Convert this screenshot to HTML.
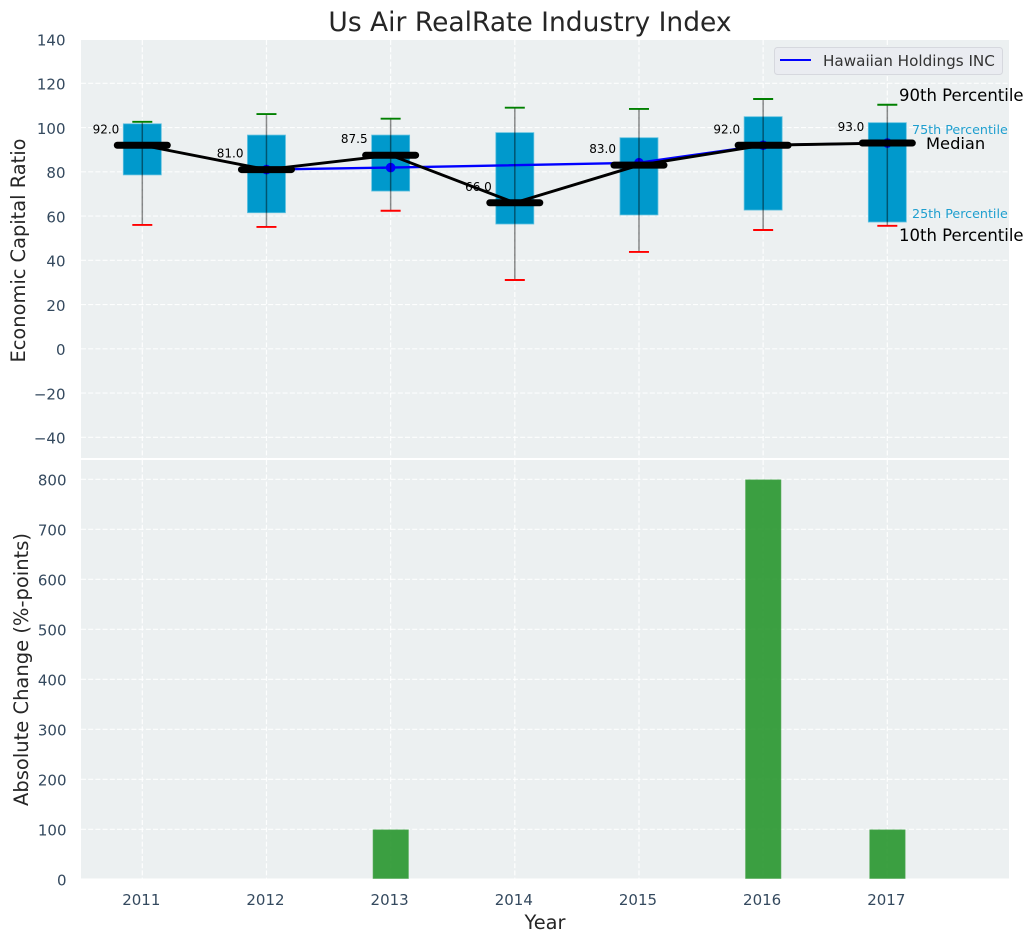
<!DOCTYPE html>
<html lang="en">
<head>
<meta charset="utf-8">
<title>Us Air RealRate Industry Index</title>
<style>
html,body{margin:0;padding:0;background:#fff;}
svg{display:block;font-family:"DejaVu Sans","Liberation Sans",sans-serif;}
</style>
</head>
<body>
<svg id="chart" xmlns="http://www.w3.org/2000/svg" width="1034" height="942" viewBox="0 0 1034 942">
  <rect x="81" y="40" width="928" height="418" fill="#ecf0f1"/>
  <rect x="81" y="460" width="928" height="418.5" fill="#ecf0f1"/>
  <g id="grid"></g>
  <g id="upper"></g>
  <g id="lower"></g>
  <g id="ticks"></g>

  <text x="530" y="31" text-anchor="middle" font-size="26.5" fill="#262626">Us Air RealRate Industry Index</text>
  <text transform="translate(25,250.5) rotate(-90)" text-anchor="middle" font-size="19.4" fill="#262626">Economic Capital Ratio</text>
  <text transform="translate(28,669.5) rotate(-90)" text-anchor="middle" font-size="19.5" fill="#262626">Absolute Change (%-points)</text>
  <text x="545" y="929" text-anchor="middle" font-size="19.4" fill="#262626">Year</text>

  <g>
    <rect x="774.5" y="47.5" width="228" height="27" rx="3" fill="#eaecf1" stroke="#d6d8de" stroke-width="1"/>
    <line x1="780" y1="60" x2="811" y2="60" stroke="#0000ff" stroke-width="2"/>
    <text x="823" y="66" font-size="15.2" fill="#333333">Hawaiian Holdings INC</text>
  </g>

  <text x="899" y="101" font-size="16.5" fill="#000000">90th Percentile</text>
  <text x="912" y="134" font-size="12.7" fill="#1f9fcf">75th Percentile</text>
  <text x="926" y="149" font-size="16.3" fill="#000000">Median</text>
  <text x="912" y="218" font-size="12.7" fill="#1f9fcf">25th Percentile</text>
  <text x="899" y="241" font-size="16.5" fill="#000000">10th Percentile</text>
</svg>

<script>
var years = [2011, 2012, 2013, 2014, 2015, 2016, 2017];
var p90 = [102.6, 106.1, 104, 109, 108.4, 112.9, 110.3];
var p75 = [101.7, 96.6, 96.6, 97.7, 95.4, 104.9, 102.2];
var medians = [92, 81, 87.5, 66, 83, 92, 93];
var p25 = [78.6, 61.5, 71.3, 56.4, 60.5, 62.7, 57.3];
var p10 = [56, 55.1, 62.4, 31.1, 43.8, 53.7, 55.6];
var companyYears = [2012, 2013, 2015, 2016, 2017];
var companyValues = [81, 81.9, 84.1, 92, 93];
var absoluteChange = [0, 0, 100, 0, 0, 800, 100];
var upperTicks = [-40, -20, 0, 20, 40, 60, 80, 100, 120, 140];
var lowerTicks = [0, 100, 200, 300, 400, 500, 600, 700, 800];

var NS = 'http://www.w3.org/2000/svg';

function xScale(year) { return 142.3 + (year - 2011) * 124.17; }
function yUpper(v) { return 348.8 - v * 2.2125; }
function yLower(v) { return 879.3 - v * 0.5; }

function make(tag, parent, attrs) {
  var el = document.createElementNS(NS, tag);
  for (var k in attrs) { el.setAttribute(k, attrs[k]); }
  parent.appendChild(el);
  return el;
}

var gridG = document.getElementById('grid');
var upperG = document.getElementById('upper');
var lowerG = document.getElementById('lower');
var ticksG = document.getElementById('ticks');
var tickColor = '#34495e';
var el;

function gridLine(x1, y1, x2, y2) {
  return make('line', gridG, { x1: x1, y1: y1, x2: x2, y2: y2, stroke: 'rgba(255,255,255,0.9)', 'stroke-width': 1.2, 'stroke-dasharray': '5,2.2' });
}

upperTicks.forEach(function (t) {
  if (yUpper(t) >= 40) {
    el = gridLine(81, yUpper(t), 1009, yUpper(t));
    
    
  }
  el = make('text', ticksG, { x: 65.5, y: yUpper(t) + 6.4, 'text-anchor': 'end', 'font-size': 15, fill: tickColor });
  el.textContent = String(t).replace('-', '\u2212');
  
  
});

lowerTicks.forEach(function (t) {
  if (t > 0) {
    el = gridLine(81, yLower(t), 1009, yLower(t));
    
    
  }
  el = make('text', ticksG, { x: 66.5, y: yLower(t) + 6.4, 'text-anchor': 'end', 'font-size': 15, fill: tickColor });
  el.textContent = String(t);
  
  
});

years.forEach(function (yr) {
  var x = xScale(yr);
  el = gridLine(x, 40, x, 458);
  
  
  el = gridLine(x, 460, x, 878.5);
  
  
  el = make('text', ticksG, { x: x - 1, y: 905, 'text-anchor': 'middle', 'font-size': 15, fill: tickColor });
  el.textContent = String(yr);
  
  
});

/* percentile boxes */
years.forEach(function (yr, i) {
  var x = xScale(yr);
  el = make('rect', upperG, { x: x - 19, y: yUpper(p75[i]), width: 38, height: yUpper(p25[i]) - yUpper(p75[i]), fill: '#0099cc', stroke: '#5fc0df', 'stroke-width': 0.8 });
  
  
});

/* median value labels, below the median line */
years.forEach(function (yr, i) {
  el = make('text', upperG, { x: xScale(yr) - 23, y: yUpper(medians[i]) - 12, 'text-anchor': 'end', 'font-size': 12, fill: '#000000' });
  el.textContent = medians[i].toFixed(1);
  
  
});

/* company series */
var bluePts = companyYears.map(function (yr, i) { return xScale(yr) + ',' + yUpper(companyValues[i]); }).join(' ');
el = make('polyline', upperG, { points: bluePts, fill: 'none', stroke: '#0000ff', 'stroke-width': 2.4 });


companyYears.forEach(function (yr, i) {
  el = make('circle', upperG, { cx: xScale(yr), cy: yUpper(companyValues[i]), r: 4.8, fill: '#0000ff' });
  
  
});

/* whiskers and caps */
years.forEach(function (yr, i) {
  var x = xScale(yr);
  el = make('line', upperG, { x1: x, y1: yUpper(p90[i]), x2: x, y2: yUpper(p10[i]), stroke: 'rgba(0,0,0,0.45)', 'stroke-width': 1.5 });
  
  
  el = make('line', upperG, { x1: x - 10, y1: yUpper(p90[i]), x2: x + 10, y2: yUpper(p90[i]), stroke: '#008000', 'stroke-width': 1.9 });
  
  
  el = make('line', upperG, { x1: x - 10, y1: yUpper(p10[i]), x2: x + 10, y2: yUpper(p10[i]), stroke: '#ff0000', 'stroke-width': 1.9 });
  
  
});

/* median trend line */
var medPts = years.map(function (yr, i) { return xScale(yr) + ',' + yUpper(medians[i]); }).join(' ');
el = make('polyline', upperG, { points: medPts, fill: 'none', stroke: '#000000', 'stroke-width': 2.9, 'stroke-linejoin': 'round' });



years.forEach(function (yr, i) {
  var x = xScale(yr);
  el = make('line', upperG, { x1: x - 25, y1: yUpper(medians[i]), x2: x + 25, y2: yUpper(medians[i]), stroke: '#000000', 'stroke-width': 7, 'stroke-linecap': 'round' });
  
  
});

/* lower bars */
years.forEach(function (yr, i) {
  if (absoluteChange[i] === 0) { return; }
  var x = xScale(yr);
  var top = yLower(absoluteChange[i]) + 0.5;
  el = make('rect', lowerG, { x: x - 17.6, y: top, width: 35.4, height: 878.5 - top, fill: 'rgba(40,150,45,0.9)', stroke: '#52a956', 'stroke-width': 0.6 });
  
  
});
</script>
</body>
</html>
